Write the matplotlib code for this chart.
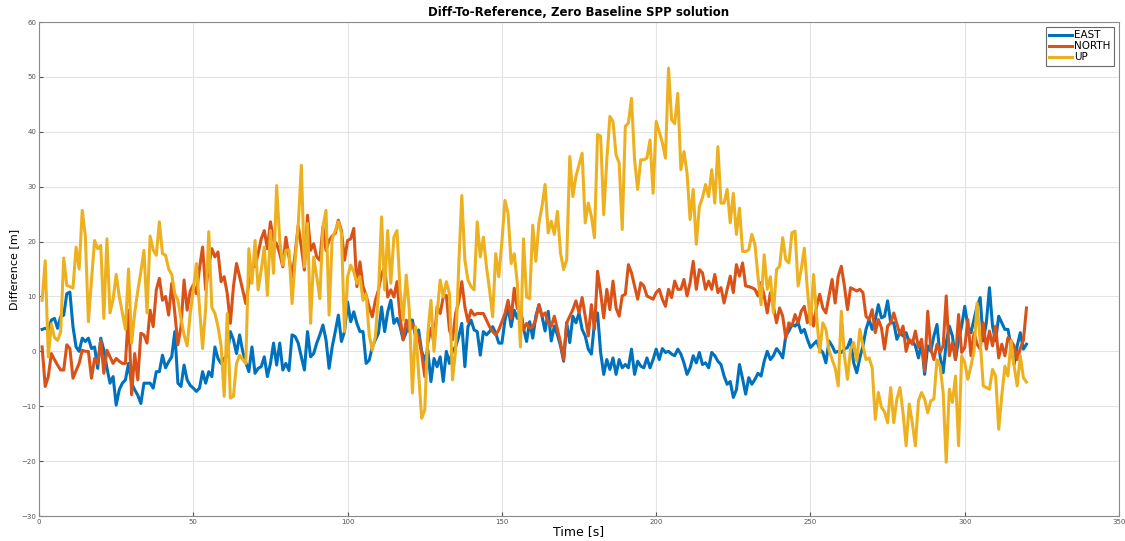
import numpy as np
import matplotlib
matplotlib.use("Agg")
import matplotlib.pyplot as plt

# EAST / NORTH / UP difference to reference [m], one sample per second (t = 1..320)
east = [
    4, 4.2, 3.9, 5.7, 6, 4.2, 6.3, 6.6, 10.5, 10.8, 4.5, 0.8, 0, 2.4, 1.8, 2.4, 0.5, 0.8, -3.1, 2.4,
    0.2, -3, -5.8, -4.6, -9.8, -7, -5.8, -5.2, -2.2, -5.8, -7, -8, -9.5, -5.8, -5.8, -5.8, -6.7, -3.7, -3.7, -0.7,
    -3, -1.9, -1, 3.6, -5.8, -6.4, -2.5, -5.2, -6.2, -6.7, -7.3, -6.7, -3.7, -5.8, -3.7, -4.6, 0.8, -1.3, -2.2, -1.3,
    -0.7, 3.6, 2.1, -0.4, 3, 0, -2, -3.7, 0.8, -4, -3.1, -2.8, -1, -4.6, -2.2, 1.5, -2.5, 1.5, -3.4, -2.2,
    -3.5, 3, 2.7, 1.5, -1, -3.4, 3.6, -1, -0.4, 1.5, 3, 4.8, 2.1, -3.1, 0.8, 3.6, 6.6, 1.8, 3.6, 9,
    5.4, 7.2, 5.1, 3.6, 3.6, -2.2, -1.6, 0.8, 2.1, 3.3, 8.1, 3.6, 7.2, 9.3, 5.1, 6, 4.5, 2.1, 3.5, 5.7,
    5.7, 2.7, 3.9, 0, -1.6, 0.2, -5.5, -1.3, -2.8, -1, -5.5, 0, -2.2, 0.2, 0.8, 2.7, 5.1, -2.8, 4.5, 5.7,
    3.9, 3.6, -0.7, 3.6, 3, 3.6, 4.5, 3.3, 1.5, 1.5, 5.7, 8.1, 4.5, 7.5, 6, 7.8, 4.2, 1.8, 5.4, 2.4,
    6.4, 8.5, 6.4, 3.7, 7.3, 1.9, 4.6, 3, 1, -1.8, 5.2, 1.6, 6.4, 5.2, 7, 4, 2.8, 0.4, -0.5, 5.2,
    7, -0.2, -4.2, -1.5, -3.3, -1.2, -4.2, -1.5, -3, -2.4, -3, 0.4, -4.2, -1.8, -2.7, -3, -1.2, -3, -1.5, 0.4,
    -1.5, 0.5, -0.2, 0, -0.5, -0.8, 0.4, -0.5, -2.1, -4.2, -3, -0.8, -2.1, -0.2, -2.4, -2.1, -3, -0.2, -0.8, -1.8,
    -2.4, -4.5, -6, -5.5, -8.4, -7, -2.4, -5, -7.8, -4.8, -6, -5.1, -4, -4.5, -1.8, 0, -1.5, -0.8, 0.5, -0.2,
    -1.2, 2.8, 3.7, 4.9, 4.6, 5.2, 3.4, 4, 2.2, 0.7, 1.3, 1.9, 0.4, -0.2, -2.1, 1.9, 1, -0.2, 0, -0.2,
    0.4, 0.7, 2.2, -2.1, -3.9, -1.2, 1, 4, 5.8, 4, 5.8, 8.5, 6.1, 6.4, 9.2, 5.2, 5.2, 2.2, 3.4, 2.8,
    3.4, 1.6, 1.9, 1, -1.2, 1.6, -4.2, 1, 0, 2.8, 4.9, -0.9, -3.9, 1.6, 4.6, 2.8, -1.5, 2.2, 4.6, 8.2,
    4.6, 3.4, 5.8, 8.2, 9.8, 1.9, 5.2, 11.6, 4.6, 1.9, 6.4, 5.2, 4, 4, 1, -2.4, 1, 3.4, 0.4, 1.3,
]

north = [
    0.8, -6.4, -4.6, -0.4, -1.5, -2.5, -3.4, -3.4, 1.2, 0.5, -4.9, -3.5, -2.2, 0.2, 0, 0, -4.9, -1.3, -2.2, 2,
    -4, 0.2, -1, -2.2, -1.3, -1.8, -2.2, -2.2, 7.5, -7.9, -0.4, -5.2, 3.3, 3, 1.5, 7.5, 4.5, 11.2, 13.3, 9.3,
    10, 6.6, 12.4, 7, 1.2, 4.5, 13, 7.5, 11, 12.1, 10.5, 15.1, 19, 11.2, 15.4, 18.7, 17.2, 18.1, 12.7, 13.6,
    10.5, 5.1, 11.8, 16, 13.6, 11.2, 8.7, 12.4, 15.4, 15.4, 17.8, 20.5, 22, 18.7, 23.6, 20.2, 19.6, 17.8, 15.4, 20.8,
    17.2, 13.6, 17.8, 23, 19, 14.8, 24.8, 18.4, 19.6, 17.2, 16.6, 22.7, 18.4, 20.2, 21, 21.5, 23.9, 22, 16.6, 20.2,
    20.5, 22.4, 11.8, 16.3, 11.8, 10.2, 8, 6.3, 9.3, 11.2, 14, 15.4, 9.9, 11.2, 9.9, 12.7, 6.3, 2.1, 5.7, 3.6,
    5, 3.6, 2.7, -0.4, -4.6, 1.5, 4.2, 1.5, 8.1, 6.9, 9.9, 10.2, 3.9, 2.1, 6.9, 9, 12.7, 8.1, 5.4, 7.5,
    6.6, 6.9, 6.9, 6.9, 5.7, 4.5, 3.6, 3, 3.9, 5.4, 6.9, 9.3, 6, 11.5, 7.8, 7.5, 3.9, 5.1, 4.2, 4.5,
    5.8, 8.5, 6.4, 7, 5.2, 4.6, 6.4, 4, 1.6, -1.5, 5.2, 6.4, 7.6, 9.2, 7, 9.8, 6.4, 2.8, 8.5, 4,
    14.6, 10.7, 6.1, 11.3, 7.6, 12.8, 7.9, 6.4, 10.1, 10.4, 15.8, 14.3, 11.9, 9.5, 12.5, 11.9, 10.1, 9.8, 9.5, 10.7,
    11.3, 9.5, 8.2, 11.3, 9.8, 12.8, 11.3, 11.3, 13.1, 10.1, 12.5, 16.4, 11.3, 14.9, 14.3, 11.3, 12.8, 11.3, 14, 10.7,
    11.6, 8.8, 11.3, 13.7, 10.7, 15.8, 13.7, 16.1, 11.9, 11.8, 11.6, 11.3, 10.1, 12.5, 10.1, 7, 10.7, 8.2, 5.2, 7.9,
    6.4, 2.4, 5.2, 4.6, 6.7, 5.2, 7.3, 8.2, 5.2, 7.9, 4.6, 8.2, 10.4, 7.9, 7, 10, 13.1, 8.8, 13.7, 15.5,
    11.9, 7.6, 11.6, 11.3, 11, 11.3, 10.7, 6.4, 5.8, 7.6, 3.4, 5.8, 4.3, 0.4, 4.6, 5.2, 7, 5, 3.1, 4.6,
    0, 2.2, 1.3, 3.7, 0.7, 2.2, -3.6, 7.3, 0.4, -1.5, 1.3, -0.2, 1, 10.1, -0.8, 1.6, -1.5, 6.7, -0.2, 0.7,
    5.8, -0.8, 3.4, 1.3, 0.4, 5.2, 0.4, 3.7, 1, 4.6, -1.2, 1.3, -0.8, 2.5, 1.9, 1, -1.5, 0.5, 2, 7.9,
]

up = [
    9.3, 16.5, -1, 5, 2.5, 2, 3.5, 17, 12, 11.8, 11.5, 19, 15, 25.7, 21, 5.4, 13, 20.2, 18.7, 19.3,
    6, 20.5, 7, 9.5, 14, 10, 7, 4, 15, 1.5, 7, 11, 14.5, 18.4, 7, 21, 18.5, 17.5, 23.6, 17.8,
    17.5, 15, 14, 10.5, 9.3, 6, 3, 1, 6.9, 11.2, 16, 8, 0.5, 7.8, 21.8, 8, 6.9, 4.5, 1, -8.2,
    6.9, -8.5, -8.2, -2.2, -0.7, -1.5, -2.2, 18.7, 12.4, 20.2, 11.2, 14.8, 19, 10.2, 22, 14.2, 30.2, 20.2, 15.7, 18.4,
    18.5, 8.7, 16.6, 23, 33.9, 15.4, 23.3, 5.1, 17.2, 13.6, 9.6, 22.7, 25.7, 6.6, 20.5, 22, 23.6, 21.5, 3.6, 13.6,
    15.7, 14.5, 12.4, 13.6, 9.3, 10.5, 3, 0.2, 2.7, 10.5, 24.5, 11.2, 22, 12.4, 20.8, 22, 11.2, 5.7, 13.9, 7.5,
    -7.6, 4.5, -4, -12.2, -10.7, 3.3, 9.3, 0, 6.9, 13, 9.9, 12.7, 10.5, -5.2, 0.2, 15.4, 28.4, 16.6, 13, 11.8,
    11.2, 23.6, 17.2, 20.8, 15.4, 11.2, 6.3, 17.8, 13.6, 20, 27.5, 25.1, 16, 17.8, 12.4, 0.8, 20.5, 9.9, 9.6, 23,
    16.4, 23.4, 26.4, 30.4, 21.6, 23.7, 21.3, 25.5, 17.9, 14.9, 16.7, 35.5, 28.2, 31.9, 34, 36.1, 23.4, 27, 24.6, 20.7,
    39.5, 39.2, 24.9, 34.9, 42.8, 41.9, 35.8, 34.3, 22.2, 41, 41.6, 46.1, 34.9, 29.5, 34.9, 34.9, 35.2, 38.5, 28.8, 41.9,
    40, 38, 35.2, 51.6, 42.2, 41.5, 47, 33.1, 36.4, 32.5, 24, 29.5, 19.5, 26.4, 28, 30.4, 28.2, 33.1, 27, 37.3,
    27, 27, 29.5, 23.4, 28.8, 21.3, 26.1, 18.2, 18.2, 18.5, 21.3, 19.5, 13.6, 8.5, 17.6, 11.3, 13.6, 7, 14.9, 15.5,
    20.7, 16.7, 16.1, 21.6, 21.9, 11.9, 14.9, 18.8, 11.3, 4.9, 14, 6.4, -0.2, 5.2, 4, 0.3, -1.5, -3, -6.3, 7.3,
    -0.8, -5.1, 0.4, 1.6, -1.8, 4, 1, -1.5, -1.2, -3, -12.4, -7.5, -10.2, -11, -13, -6.6, -13, -8.7, -6.6, -11.2,
    -17.2, -9.6, -13, -17.2, -9, -7.5, -8.7, -11.2, -9, -8.7, -1.5, -2.7, -7.5, -20.2, -6.9, -9.3, -4.5, -17.2, -0.8, -2.1,
    -5.1, -2.7, 0, 8.8, 1.9, -6.3, -6.6, -6.9, -3.3, -4.5, -14.2, -8.1, -2.7, -4.5, 1.9, -2.7, -6.3, -0.8, -4.8, -5.6,
]

labels = ["EAST", "NORTH", "UP"]
colors = ["#0072BD", "#D95319", "#EDB120"]  # MATLAB default order

fig = plt.figure(figsize=(11.25, 5.41), dpi=100)
ax = fig.add_axes([0.0347, 0.0462, 0.9600, 0.9131])

for series, name, col in zip([east, north, up], labels, colors):
    t = np.arange(1, len(series) + 1)
    ax.plot(t, series, color=col, linewidth=2.2, label=name)

ax.set_xlim(0, 350)
ax.set_ylim(-30, 60)
ax.set_xticks(np.arange(0, 351, 50))
ax.set_yticks(np.arange(-30, 61, 10))
ax.grid(True, color="#e3e3e3", linewidth=0.8)
ax.set_axisbelow(True)
ax.tick_params(direction="in", length=3, labelsize=5, colors="#555555", pad=2)
for sp in ax.spines.values():
    sp.set_color("#8a8a8a")
    sp.set_linewidth(0.8)

ax.set_title("Diff-To-Reference, Zero Baseline SPP solution", fontsize=8.5,
             fontweight="bold", pad=4)
ax.set_xlabel("Time [s]", fontsize=9, labelpad=0)
ax.set_ylabel("Difference [m]", fontsize=8, labelpad=2)

leg = ax.legend(loc="upper right", fontsize=7.5, frameon=True, fancybox=False,
                borderpad=0.3, labelspacing=0.1, handlelength=2.2, handletextpad=0.2,
                borderaxespad=0.5)
leg.get_frame().set_edgecolor("#444444")
leg.get_frame().set_linewidth(0.8)

fig.savefig("out.png", dpi=100)
